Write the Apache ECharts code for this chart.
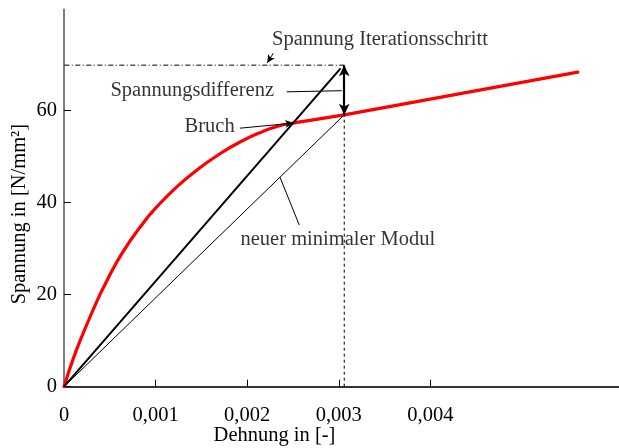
<!DOCTYPE html>
<html>
<head>
<meta charset="utf-8">
<script src="https://cdn.jsdelivr.net/npm/echarts@6/dist/echarts.min.js"></script>
<style>
html,body{margin:0;padding:0;background:#fff;}
#chart{width:619px;height:448px;}
</style>
</head>
<body>
<div id="chart"></div>
<script>
// ---- data ----
// nonlinear stress-strain curve up to the iteration point
const strain = [0, 0.000123, 0.00027, 0.000371, 0.000434, 0.000633, 0.000888, 0.00099, 0.001234, 0.001452, 0.001707, 0.001962, 0.002162, 0.002344, 0.002501, 0.002686, 0.00306];
const stress = [0, 7.3, 14.5, 19.1, 21.7, 29.0, 36.2, 38.6, 43.5, 47.1, 50.7, 53.6, 55.4, 56.7, 57.3, 57.9, 59.1];
// linear hardening branch after the iteration point
const branchStrain = [0.00306, 0.00561];
const branchStress = [59.1, 68.4];

const xTickValues = [0.001, 0.002, 0.003, 0.004];
const xLabelValues = [0, 0.001, 0.002, 0.003, 0.004];
const yTickValues = [0, 20, 40, 60];

// secant (iteration step) line
const secantStrain = [0, 0.00302];
const secantStress = [0, 69.2];
// new minimal modulus line
const modulStrain = [0, 0.00306];
const modulStress = [0, 59.1];
// iteration point
const iterStrain = 0.00306;
const iterStressLow = 59.1;
const iterStressHigh = 69.9;
// dash-dot level of iteration stress
const levelStrain = [-0.000117, 0.00307];

// annotations
const annoNames = ['Spannung Iterationsschritt', 'Spannungsdifferenz', 'Bruch', 'neuer minimaler Modul'];
const annoStrain = [0.00345, 0.00140, 0.00159, 0.00299];
const annoStress = [75.4, 64.3, 56.5, 32.0];

// leader lines
const leaderFromStrain = [0.002285, 0.002432, 0.001922, 0.002359];
const leaderFromStress = [72.5, 64.1, 56.2, 45.5];
const leaderToStrain = [0.00222, 0.003032, 0.002504, 0.002569];
const leaderToStress = [70.4, 64.35, 57.3, 35.15];
const leaderArrow = [true, false, true, false];

// ---- chart ----
const FONT = 'Liberation Serif';
const FS = 20.5;
const chart = echarts.init(document.getElementById('chart'), null, {renderer: 'canvas'});

const markData = [];
markData.push([
  {coord: [iterStrain, iterStressLow], symbol: 'arrow', symbolSize: [8, 11], lineStyle: {width: 2.2, color: '#000', type: 'solid'}},
  {coord: [iterStrain, iterStressHigh], symbol: 'arrow', symbolSize: [8, 11]}
]);
for (let i = 0; i < leaderFromStrain.length; i++) {
  markData.push([
    {coord: [leaderFromStrain[i], leaderFromStress[i]], symbol: 'none', lineStyle: {width: 1, color: '#000', type: 'solid'}},
    {coord: [leaderToStrain[i], leaderToStress[i]], symbol: leaderArrow[i] ? 'arrow' : 'none', symbolSize: [6, 8]}
  ]);
}

const redStyle = {color: '#ff0000', width: 3.2, join: 'round', cap: 'round'};

const option = {
  backgroundColor: '#fff',
  animation: false,
  grid: {left: 64, right: 0, top: 9.5, bottom: 61.3, outerBoundsMode: 'none', containLabel: false},
  xAxis: [{
    type: 'value',
    min: 0, max: 0.00606, interval: 0.001,
    name: 'Dehnung in [-]',
    nameLocation: 'middle',
    nameGap: 38,
    nameMoveOverlap: false,
    nameTextStyle: {fontFamily: FONT, fontSize: FS, color: '#000', padding: [0, 134, 0, 0]},
    axisLine: {show: true, onZero: false, lineStyle: {color: '#000', width: 1.5}},
    axisTick: {show: true, inside: true, length: 7, customValues: xTickValues, lineStyle: {color: '#000', width: 1}},
    axisLabel: {
      show: true, margin: 18, customValues: xLabelValues,
      fontFamily: FONT, fontSize: FS, color: '#000',
      formatter: v => String(v).replace('.', ',')
    },
    splitLine: {show: false}
  }, {
    type: 'value', position: 'top',
    min: 0, max: 0.00606,
    axisLine: {show: true, lineStyle: {color: '#333', width: 1.6}},
    axisTick: {show: false}, axisLabel: {show: false}, splitLine: {show: false}
  }],
  yAxis: {
    type: 'value',
    min: 0, max: 82, interval: 20,
    name: 'Spannung in [N/mm²]',
    nameLocation: 'middle',
    nameGap: 34,
    nameMoveOverlap: false,
    nameTextStyle: {fontFamily: FONT, fontSize: FS, color: '#000', padding: [0, 32, 0, 0]},
    axisLine: {show: true, lineStyle: {color: '#707070', width: 1.8}},
    axisTick: {show: true, inside: true, length: 7, customValues: yTickValues, lineStyle: {color: '#000', width: 1}},
    axisLabel: {show: true, margin: 7, customValues: yTickValues, fontFamily: FONT, fontSize: FS, color: '#000'},
    splitLine: {show: false}
  },
  series: [
    {
      type: 'line', name: 'Spannung',
      data: strain.map((e, i) => [e, stress[i]]),
      smooth: 0.5,
      symbol: 'none',
      lineStyle: redStyle,
      z: 2
    },
    {
      type: 'line', name: 'Verfestigung',
      data: branchStrain.map((e, i) => [e, branchStress[i]]),
      symbol: 'none',
      lineStyle: redStyle,
      z: 2
    },
    {
      type: 'line', name: 'Sekante',
      data: secantStrain.map((e, i) => [e, secantStress[i]]),
      symbol: 'none',
      lineStyle: {color: '#000', width: 2},
      z: 3
    },
    {
      type: 'line', name: 'Modul',
      data: modulStrain.map((e, i) => [e, modulStress[i]]),
      symbol: 'none',
      lineStyle: {color: '#000', width: 1},
      z: 3
    },
    {
      type: 'line', name: 'vertikal',
      data: [[iterStrain, 0], [iterStrain, iterStressLow]],
      symbol: 'none',
      lineStyle: {color: '#000', width: 1, type: [3, 3]},
      z: 3
    },
    {
      type: 'line', name: 'Niveau',
      data: levelStrain.map(e => [e, iterStressHigh]),
      symbol: 'none', clip: false,
      lineStyle: {color: '#000', width: 1, type: [5, 2.5, 1, 2.5]},
      z: 3
    },
    {
      type: 'line', name: 'Pfeile',
      data: [],
      symbol: 'none',
      markLine: {
        silent: true,
        animation: false,
        label: {show: false},
        emphasis: {disabled: true},
        data: markData
      },
      z: 4
    },
    {
      type: 'scatter', name: 'Beschriftung',
      symbolSize: 0,
      data: annoNames.map((n, i) => ({name: n, value: [annoStrain[i], annoStress[i]]})),
      label: {
        show: true, position: 'inside', formatter: '{b}',
        fontFamily: FONT, fontSize: FS, color: '#000'
      },
      silent: true,
      z: 5
    }
  ]
};
chart.setOption(option);
</script>
</body>
</html>
